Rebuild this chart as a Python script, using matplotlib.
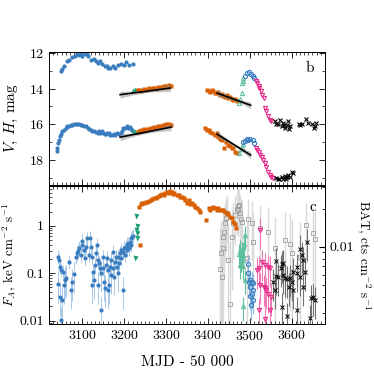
import numpy as np
import matplotlib
matplotlib.use('Agg')
import matplotlib.pyplot as plt
from matplotlib.ticker import MultipleLocator, FuncFormatter, LogLocator, NullFormatter

plt.rcParams['font.family'] = 'cmr10'
plt.rcParams['mathtext.fontset'] = 'cm'
plt.rcParams['axes.formatter.use_mathtext'] = True

BLUE = '#3a7dbf'
ORANGE = '#d95f02'
GREEN = '#1b9e77'
LGREEN = '#5fc0a0'
PINK = '#e7298a'

# ---------------- panel b: optical/IR magnitudes ----------------
# upper sequence (V)
v_blue_t = [3048, 3052, 3056, 3064, 3068, 3076, 3082, 3088, 3092, 3096, 3100, 3105, 3110, 3113,
            3120, 3128, 3132, 3136, 3142, 3147, 3153, 3158, 3161, 3167, 3174, 3179, 3185, 3191,
            3199, 3205, 3211, 3221]
v_blue_m = [12.99, 12.88, 12.75, 12.47, 12.37, 12.22, 12.15, 12.06, 12.09, 12.0, 12.15, 12.04, 12.0,
            12.19, 12.37, 12.34, 12.47, 12.56, 12.47, 12.6, 12.71, 12.75, 12.84, 12.84, 12.75, 12.84,
            12.66, 12.6, 12.66, 12.52, 12.66, 12.6]

# lower sequence (H)
h_blue_t = [3039, 3040, 3042, 3044, 3047, 3049, 3052, 3055, 3060, 3064, 3068, 3072, 3076, 3080,
            3084, 3088, 3092, 3096, 3100, 3104, 3108, 3113, 3116, 3120, 3124, 3128, 3132, 3136,
            3139, 3142, 3147, 3150, 3153, 3156, 3159, 3163, 3167, 3171, 3175, 3179, 3183, 3187,
            3191, 3195, 3198, 3202, 3206, 3209, 3213, 3216, 3219]
h_blue_m = [17.52, 17.35, 17.06, 16.9, 16.68, 16.55, 16.4, 16.3, 16.21, 16.12, 16.08, 16.05, 16.03,
            15.98, 15.97, 16.0, 15.99, 16.05, 16.03, 16.1, 16.12, 16.21, 16.28, 16.31, 16.4, 16.36,
            16.45, 16.46, 16.38, 16.49, 16.4, 16.48, 16.53, 16.55, 16.46, 16.5, 16.59, 16.6, 16.53,
            16.62, 16.49, 16.55, 16.46, 16.35, 16.21, 16.18, 16.12, 16.22, 16.16, 16.25, 16.31]

green1_t = [3222, 3226, 3229]
green1_v = [14.08, 14.02, 14.1]
green1_h = [16.4, 16.35, 16.45]

orange1_t = [3232, 3236, 3240, 3244, 3248, 3252, 3256, 3260, 3264, 3268, 3272, 3276, 3280, 3284,
             3288, 3292, 3296, 3300, 3304, 3308, 3312]
orange1_v = [14.1, 14.08, 14.12, 14.05, 14.02, 14.06, 14.0, 13.97, 14.03, 13.98, 13.95, 14.0, 13.92,
             13.96, 13.9, 13.93, 13.87, 13.84, 13.9, 13.82, 13.88]
orange1_h = [16.42, 16.38, 16.33, 16.35, 16.28, 16.3, 16.24, 16.27, 16.2, 16.22, 16.15, 16.2, 16.12,
             16.16, 16.1, 16.05, 16.12, 16.0, 16.06, 15.98, 16.04]

orange2_vt = [3398, 3402, 3406, 3410, 3413, 3418, 3422, 3425, 3429, 3433, 3437, 3441, 3445, 3449,
              3453, 3457, 3461, 3465, 3469]
orange2_v = [14.06, 14.12, 14.2, 14.1, 14.16, 14.25, 14.22, 14.2, 14.34, 14.3, 14.4, 14.45, 14.38,
             14.53, 14.48, 14.58, 14.64, 14.56, 14.7]
orange2_ht = [3394, 3398, 3402, 3406, 3410, 3417, 3421, 3425, 3429, 3433, 3439, 3444, 3449, 3453,
              3457, 3461, 3465, 3469]
orange2_h = [16.21, 16.3, 16.31, 16.42, 16.5, 16.59, 16.46, 16.72, 16.8, 16.87, 17.34, 16.97, 17.15,
             17.2, 17.34, 17.3, 17.53, 17.62]

lgreen_vt = [3475, 3477, 3481, 3481, 3483, 3485]
lgreen_v = [14.81, 14.59, 14.25, 13.69, 13.41, 13.6]
lgreen_ht = [3475, 3479, 3481, 3483]
lgreen_h = [17.62, 17.4, 17.25, 17.1]

oblue_vt = [3489, 3493, 3499, 3502, 3507, 3510]
oblue_v = [13.27, 13.12, 13.09, 13.16, 13.27, 13.41]
oblue_ht = [3485, 3489, 3493, 3497, 3501, 3507, 3510]
oblue_h = [17.0, 16.92, 16.85, 16.86, 16.81, 16.9, 17.04]

pink_vt = [3514, 3517, 3521, 3523, 3526, 3529, 3533, 3537, 3539, 3544, 3548, 3552]
pink_v = [13.55, 13.69, 13.87, 13.97, 14.16, 14.34, 14.53, 15.09, 15.28, 15.56, 15.75, 15.84]
pink_ht = [3514, 3517, 3521, 3525, 3529, 3532, 3536, 3540, 3544, 3548, 3552, 3556]
pink_h = [17.3, 17.43, 17.53, 17.71, 17.81, 18.0, 18.18, 18.37, 18.65, 18.84, 18.93, 19.02]

black_vt = [3560, 3564, 3568, 3572, 3576, 3580, 3582, 3584, 3588, 3592, 3594, 3596, 3618, 3621,
            3626, 3634, 3640, 3650, 3653, 3655, 3659]
black_v = [15.84, 16.0, 15.97, 15.75, 16.12, 15.9, 16.05, 16.21, 16.03, 15.84, 16.27, 16.08, 15.97,
           16.03, 16.0, 15.71, 15.9, 15.97, 16.21, 16.08, 15.94]
black_ht = [3564, 3568, 3571, 3576, 3580, 3584, 3586, 3588, 3592, 3596, 3600, 3604]
black_h = [19.02, 19.05, 19.08, 18.97, 19.04, 18.89, 19.08, 18.97, 18.84, 18.93, 18.65, 18.75]

# linear fits (end points)
fit_t = [[3190, 3310], [3190, 3312], [3422, 3502], [3422, 3502]]
fit_m = [[14.34, 13.97], [16.72, 16.16], [14.25, 14.93], [16.55, 17.72]]

# ---------------- panel c: X-ray flux ----------------
fx_blue_t = [3041, 3045, 3047, 3049, 3053, 3042, 3047, 3050, 3049, 3055, 3058, 3061, 3068, 3072,
             3076, 3080, 3084, 3087, 3090, 3092, 3096, 3098, 3100, 3104, 3106, 3108, 3112, 3116,
             3118, 3120, 3122, 3124, 3126, 3128, 3130, 3132, 3134, 3136, 3138, 3140, 3142, 3144,
             3145, 3148, 3150, 3152, 3153, 3156, 3158, 3160, 3161, 3164, 3166, 3168, 3169, 3172,
             3174, 3176, 3177, 3180, 3182, 3184, 3185, 3188, 3190, 3192, 3193, 3196, 3198, 3200,
             3201, 3203, 3206, 3207, 3209, 3211, 3214, 3215, 3217, 3219, 3222]
fx_blue = [0.223, 0.19, 0.137, 0.117, 0.104, 0.058, 0.032, 0.027, 0.0103, 0.056, 0.072, 0.078,
           0.175, 0.044, 0.066, 0.095, 0.223, 0.262, 0.293, 0.334, 0.241, 0.393, 0.476, 0.308,
           0.205, 0.36, 0.54, 0.241, 0.56, 0.36, 0.056, 0.223, 0.108, 0.072, 0.149, 0.262, 0.393,
           0.19, 0.056, 0.161, 0.127, 0.0168, 0.099, 0.223, 0.127, 0.066, 0.048, 0.149, 0.205,
           0.044, 0.117, 0.056, 0.137, 0.092, 0.19, 0.283, 0.127, 0.085, 0.175, 0.223, 0.137,
           0.099, 0.223, 0.161, 0.262, 0.308, 0.205, 0.044, 0.283, 0.334, 0.241, 0.36, 0.405,
           0.308, 0.42, 0.334, 0.46, 0.54, 0.393, 0.59, 0.62]

fx_green_t = [3226, 3227, 3230, 3231, 3230, 3227]
fx_green = [0.21, 0.81, 1.0, 0.72, 0.56, 1.63]

fx_orange_t = [3235, 3237, 3239, 3243, 3247, 3251, 3255, 3259, 3263, 3267, 3271, 3275, 3279, 3282,
               3286, 3290, 3294, 3298, 3302, 3306, 3310, 3314, 3317, 3320, 3325, 3330, 3334, 3338,
               3342, 3346, 3350, 3354, 3358, 3362, 3366, 3370, 3374, 3378, 3382, 3396, 3402, 3406,
               3410, 3413, 3417, 3421, 3425, 3429, 3433, 3437, 3441, 3445, 3449, 3453, 3457, 3461,
               3465, 3468]
fx_orange = [2.5, 0.39, 2.86, 2.95, 3.05, 3.1, 3.2, 3.35, 3.47, 3.6, 3.77, 3.9, 4.0, 4.3, 4.4, 4.6,
             4.5, 4.96, 5.2, 5.0, 5.45, 5.2, 4.64, 4.96, 4.4, 4.4, 3.95, 4.1, 3.77, 3.47, 3.05, 3.47,
             2.86, 2.95, 2.72, 2.5, 2.32, 2.14, 1.95, 1.32, 2.32, 2.2, 2.32, 2.5, 2.32, 2.2, 2.32,
             2.2, 2.14, 2.14, 1.97, 1.82, 1.75, 1.55, 1.43, 1.2, 1.1, 0.88]

fx_lgreen_t = [3489, 3487, 3477, 3481, 3475, 3483, 3479, 3485, 3477, 3483, 3489, 3485]
fx_lgreen = [0.63, 0.42, 0.31, 0.28, 0.26, 0.24, 0.21, 0.19, 0.149, 0.142, 0.072, 0.02]

fx_oblue_t = [3497, 3497, 3501, 3505, 3509, 3499, 3501, 3509, 3505, 3501, 3507, 3502]
fx_oblue = [0.16, 0.099, 0.072, 0.066, 0.061, 0.064, 0.052, 0.044, 0.037, 0.033, 0.027, 0.021]

fx_pink_t = [3525, 3529, 3521, 3517, 3537, 3544, 3548, 3525, 3533, 3540, 3537, 3544, 3550, 3523,
             3548, 3537]
fx_pink = [0.81, 0.175, 0.126, 0.117, 0.15, 0.137, 0.13, 0.056, 0.052, 0.044, 0.048, 0.037, 0.032,
           0.0168, 0.0168, 0.011]

fx_black_t = [3563, 3576, 3580, 3574, 3564, 3568, 3580, 3584, 3590, 3596, 3604, 3612, 3620, 3620,
              3624, 3628, 3637, 3632, 3600, 3594, 3604, 3628, 3647, 3651, 3655, 3576, 3588, 3612,
              3644, 3612, 3556, 3560]
fx_black = [0.183, 0.156, 0.166, 0.127, 0.087, 0.084, 0.092, 0.078, 0.074, 0.078, 0.108, 0.099,
            0.084, 0.33, 0.24, 0.19, 0.46, 0.108, 0.066, 0.052, 0.044, 0.052, 0.0295, 0.032, 0.027,
            0.0197, 0.0123, 0.0168, 0.0112, 0.137, 0.066, 0.045]

# Swift/BAT count rate (right axis)
bat_t = [3429, 3431, 3433, 3436, 3437, 3439, 3441, 3444, 3445, 3449, 3453, 3457, 3461, 3465, 3469,
         3471, 3473, 3475, 3477, 3479, 3481, 3493, 3497, 3505, 3508, 3525, 3544, 3560, 3584, 3596,
         3600, 3620, 3634, 3651, 3656]
bat = [0.0067, 0.0089, 0.0058, 0.0097, 0.012, 0.0132, 0.0153, 0.0168, 0.0184, 0.0078, 0.0035,
       0.012, 0.0153, 0.0178, 0.020, 0.021, 0.0196, 0.0214, 0.0184, 0.0165, 0.0158, 0.0081, 0.0165,
       0.0154, 0.0109, 0.014, 0.0132, 0.0097, 0.0113, 0.0106, 0.0089, 0.0083, 0.0149, 0.0128, 0.0116]
bat_err = 0.0075

fig = plt.figure(figsize=(3.74, 3.74), dpi=100)
ax1 = fig.add_axes([0.131, 0.5053, 0.738, 0.3556])
ax2 = fig.add_axes([0.131, 0.1337, 0.738, 0.369], sharex=ax1)

ms = 3
# panel b
for t, m in zip(fit_t, fit_m):
    tt = np.linspace(t[0], t[1], 50)
    mm = np.interp(tt, t, m)
    hw = 0.08 + 0.12 * ((tt - np.mean(t)) / (0.5 * (t[1] - t[0]))) ** 2
    ax1.fill_between(tt, mm - hw, mm + hw, color='0.55', alpha=0.5, lw=0, zorder=4)
    ax1.plot(t, m, color='k', lw=1.2, zorder=5)

ax1.plot(v_blue_t, v_blue_m, 'o', color=BLUE, ms=ms, mec='none')
ax1.plot(h_blue_t, h_blue_m, 'o', color=BLUE, ms=ms, mec='none')
ax1.plot(green1_t, green1_v, '^', color=GREEN, ms=ms, mec='none')
ax1.plot(green1_t, green1_h, '^', color=GREEN, ms=ms, mec='none')
ax1.plot(orange1_t, orange1_v, 's', color=ORANGE, ms=ms, mec='none')
ax1.plot(orange1_t, orange1_h, 's', color=ORANGE, ms=ms, mec='none')
ax1.plot(orange2_vt, orange2_v, 's', color=ORANGE, ms=ms, mec='none')
ax1.plot(orange2_ht, orange2_h, 's', color=ORANGE, ms=ms, mec='none')
ax1.plot(lgreen_vt, lgreen_v, '^', mfc='none', mec=LGREEN, ms=ms, mew=0.8)
ax1.plot(lgreen_ht, lgreen_h, '^', mfc='none', mec=LGREEN, ms=ms, mew=0.8)
ax1.plot(oblue_vt, oblue_v, 'o', mfc='none', mec=BLUE, ms=ms, mew=0.8)
ax1.plot(oblue_ht, oblue_h, 'o', mfc='none', mec=BLUE, ms=ms, mew=0.8)
ax1.plot(pink_vt, pink_v, 'v', mfc='none', mec=PINK, ms=ms, mew=0.8)
ax1.plot(pink_ht, pink_h, 'v', mfc='none', mec=PINK, ms=ms, mew=0.8)
ax1.plot(black_vt, black_v, 'x', color='k', ms=ms, mew=0.8)
ax1.plot(black_ht, black_h, 'x', color='k', ms=ms, mew=0.8)

ax1.set_ylim(19.4, 11.95)
ax1.yaxis.set_major_locator(MultipleLocator(2))
ax1.yaxis.set_minor_locator(MultipleLocator(1))
ax1.set_ylabel('$V$, $H$, mag', fontsize=11, labelpad=6)
ax1.text(0.946, 0.88, 'b', transform=ax1.transAxes, fontsize=11, ha='center', va='center')
ax1.tick_params(labelbottom=False)

# panel c
ax3 = ax2.twinx()
ax3.set_yscale('log')
ax3.errorbar(bat_t, bat, yerr=bat_err, fmt='s', mfc='none', mec='0.62', ms=2.5, mew=0.6,
             ecolor='0.85', elinewidth=1.0, zorder=1)
ax3.set_ylim(0.00244, 0.0303)
ax3.yaxis.set_major_locator(LogLocator(base=10))
ax3.yaxis.set_major_formatter(FuncFormatter(lambda v, p: f'{v:g}'))
ax3.yaxis.set_minor_formatter(NullFormatter())
ax3.set_ylabel('BAT, cts cm$^{-2}$ s$^{-1}$', fontsize=9.5, rotation=270, labelpad=13)
ax3.tick_params(which='both', direction='in', labelsize=10)
ax3.tick_params(which='major', length=4)
ax3.tick_params(which='minor', length=2)

ax2.set_zorder(ax3.get_zorder() + 1)
ax2.patch.set_visible(False)
ax2.set_yscale('log')

fb = np.array(fx_blue)
ax2.errorbar(fx_blue_t, fb, yerr=[np.where(fb < 0.1, 0.6, 0.3) * fb, np.where(fb < 0.1, 0.9, 0.4) * fb],
             fmt='o', color=BLUE, ms=ms, mec='none', ecolor='#a9c9e8', elinewidth=0.7)
ax2.plot(fx_green_t, fx_green, 'v', color=GREEN, ms=3.6, mec='none')
ax2.plot(fx_orange_t, fx_orange, 's', color=ORANGE, ms=ms, mec='none')
fg = np.array(fx_lgreen)
ax2.errorbar(fx_lgreen_t, fg, yerr=[0.5 * fg, 0.6 * fg], fmt='^', mfc='none', mec=LGREEN, ms=ms,
             mew=0.8, ecolor=LGREEN, elinewidth=0.8)
fo = np.array(fx_oblue)
ax2.errorbar(fx_oblue_t, fo, yerr=[0.5 * fo, 0.6 * fo], fmt='o', mfc='none', mec=BLUE, ms=ms,
             mew=0.8, ecolor='#8dbae3', elinewidth=0.8)
fp = np.array(fx_pink)
ax2.errorbar(fx_pink_t, fp, yerr=[0.6 * fp, 0.8 * fp], fmt='v', mfc='none', mec=PINK, ms=ms,
             mew=0.8, ecolor='#f07ab8', elinewidth=0.8)
fk = np.array(fx_black)
ax2.errorbar(fx_black_t, fk, yerr=[0.6 * fk, 0.9 * fk], fmt='x', color='k', ms=2.6, mew=0.7,
             ecolor='0.45', elinewidth=0.8)

ax2.set_ylim(0.0085, 6.9)
ax2.yaxis.set_major_locator(LogLocator(base=10))
ax2.yaxis.set_major_formatter(FuncFormatter(lambda v, p: f'{v:g}'))
ax2.yaxis.set_minor_formatter(NullFormatter())
ax2.set_ylabel('$F_A$, keV cm$^{-2}$ s$^{-1}$', fontsize=9.5, labelpad=1)
ax2.set_xlabel('MJD - 50 000', fontsize=11, labelpad=9)
ax2.text(0.957, 0.848, 'c', transform=ax2.transAxes, fontsize=11, ha='center', va='center')

ax1.set_xlim(3020, 3680)
ax1.xaxis.set_major_locator(MultipleLocator(100))
ax1.xaxis.set_minor_locator(MultipleLocator(10))

ax1.tick_params(which='both', direction='in', top=True, right=True, labelsize=10)
ax2.tick_params(which='both', direction='in', top=True, right=False, labelsize=10)
for a in (ax1, ax2):
    a.tick_params(which='major', length=4, width=0.6)
    a.tick_params(which='minor', length=2, width=0.5)
    for s in a.spines.values():
        s.set_linewidth(0.7)
for s in ax3.spines.values():
    s.set_linewidth(0.7)

fig.savefig('out.png', dpi=100)
